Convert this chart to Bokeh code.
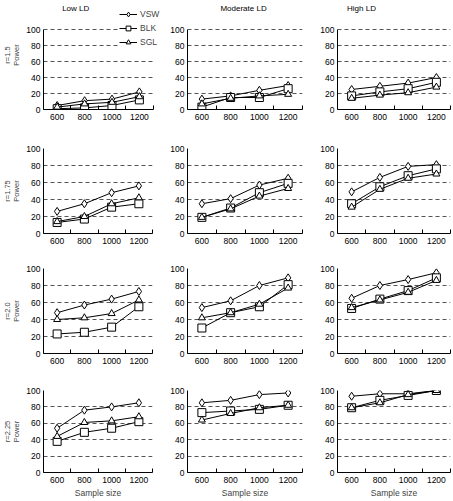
from bokeh.plotting import figure
from bokeh.layouts import column, row
from bokeh.models import FixedTicker, Legend, LegendItem, Label, BoxAnnotation
from bokeh.embed import file_html
from bokeh.resources import INLINE

sample_sizes = [600, 800, 1000, 1200]
ld_levels = ["Low LD", "Moderate LD", "High LD"]
r_labels = ["r=1.5", "r=1.75", "r=2.0", "r=2.25"]
methods = ["VSW", "BLK", "SGL"]
power_ticks = [0, 20, 40, 60, 80, 100]

# Power (%) per LD level: [Low, Moderate, High]
vsw_r150 = [[5, 11, 13, 22], [13, 17, 24, 30], [25, 29, 33, 40]]
blk_r150 = [[1, 2, 5, 12], [3, 15, 15, 26], [17, 22, 26, 34]]
sgl_r150 = [[3, 7, 9, 16], [7, 14, 17, 19], [14, 18, 21, 28]]

vsw_r175 = [[26, 35, 48, 56], [35, 41, 57, 65], [49, 66, 79, 81]]
blk_r175 = [[13, 17, 31, 35], [19, 30, 48, 59], [35, 55, 68, 76]]
sgl_r175 = [[14, 20, 35, 42], [19, 29, 44, 53], [31, 52, 65, 70]]

vsw_r200 = [[48, 57, 64, 73], [54, 62, 80, 89], [65, 80, 87, 95]]
blk_r200 = [[23, 25, 31, 55], [30, 48, 55, 81], [53, 64, 74, 89]]
sgl_r200 = [[40, 42, 47, 63], [42, 48, 58, 77], [54, 63, 72, 86]]

vsw_r225 = [[54, 76, 80, 85], [85, 88, 95, 97], [93, 96, 96, 100]]
blk_r225 = [[38, 49, 54, 62], [73, 75, 77, 82], [79, 88, 94, 100]]
sgl_r225 = [[44, 61, 63, 68], [64, 72, 79, 82], [79, 85, 95, 100]]

rows_data = [
    (vsw_r150, blk_r150, sgl_r150),
    (vsw_r175, blk_r175, sgl_r175),
    (vsw_r200, blk_r200, sgl_r200),
    (vsw_r225, blk_r225, sgl_r225),
]

FONT = "Liberation Sans"
FS = "8.5px"

X0, X1 = 500, 1300
col_borders = [(38, 15), (18, 10), (25, 2)]
col_widths = [167, 145, 140]
row_borders = [(0, 19), (20, 15), (20, 15), (22, 27)]
row_heights = [128, 120, 120, 132]
# first row: frame reaches the top of the page, 0-100 occupies the lower 80 px
Y1_TOP = 100 * (128 - 19) / 80.0
X1_WIDE = X0 + (X1 - X0) * (167 - 38) / 114.0
title_x = [735, 890, 670]
title_y = 126

markers = ["diamond", "square", "triangle"]
msizes = [8, 8, 7]

rows = []
for ri in range(4):
    figs = []
    for ci in range(3):
        top, bottom = row_borders[ri]
        left, right = col_borders[ci]
        xr = (X0, X1)
        yr = (0, 100)
        if ri == 0:
            yr = (0, Y1_TOP)
            if ci == 0:
                xr = (X0, X1_WIDE)
                right = 0
        p = figure(width=col_widths[ci], height=row_heights[ri],
                   x_range=xr, y_range=yr,
                   toolbar_location=None, output_backend="svg",
                   min_border_left=left, min_border_right=right,
                   min_border_top=top, min_border_bottom=bottom,
                   outline_line_color=None, background_fill_color="white",
                   border_fill_color="white")
        p.xaxis.ticker = FixedTicker(ticks=sample_sizes, minor_ticks=[500, 700, 900, 1100, 1300])
        p.xaxis.bounds = (X0, X1)
        p.xaxis.major_tick_in = 0
        p.xaxis.major_tick_out = 0
        p.xaxis.minor_tick_in = 4
        p.xaxis.minor_tick_out = 0
        p.yaxis.ticker = FixedTicker(ticks=power_ticks)
        p.yaxis.bounds = (0, 100)
        p.yaxis.major_tick_in = 0
        p.yaxis.major_tick_out = 0
        p.yaxis.minor_tick_in = 0
        p.yaxis.minor_tick_out = 0
        for ax in (p.xaxis[0], p.yaxis[0]):
            ax.major_label_text_font = FONT
            ax.major_label_text_font_size = FS
            ax.major_label_text_color = "black"
            ax.axis_line_color = "black"
            ax.axis_label_text_font = FONT
            ax.axis_label_text_font_size = FS
            ax.axis_label_text_font_style = "normal"
        p.xaxis.major_label_standoff = 4
        p.yaxis.major_label_standoff = 3
        if ri == 3:
            p.xaxis.axis_label = "Sample size"
            p.xaxis.axis_label_standoff = 2
        if ci == 0:
            p.yaxis.axis_label = r_labels[ri] + "\nPower"
            p.yaxis.axis_label_text_font_size = "7.5px"
            p.yaxis.axis_label_text_line_height = 1.0
            p.yaxis.axis_label_standoff = 2
        p.xgrid.visible = False
        p.ygrid.grid_line_color = "#555555"
        p.ygrid.grid_line_dash = "4 3"
        p.ygrid.grid_line_width = 1

        if ri == 0:
            if ci == 0:
                p.add_layout(BoxAnnotation(left=X1, fill_color="white", fill_alpha=1.0,
                                           line_alpha=0, level="underlay"))
            p.add_layout(Label(x=title_x[ci], y=title_y, text=ld_levels[ci],
                               text_align="center", text_baseline="middle",
                               text_font=FONT, text_font_size="8px",
                               text_color="black"))

        items = []
        for si, series in enumerate(rows_data[ri]):
            ys = series[ci]
            ln = p.line(sample_sizes, ys, line_color="black", line_width=1)
            sc = p.scatter(sample_sizes, ys, marker=markers[si], size=msizes[si],
                           fill_color="white", line_color="black", line_width=1)
            items.append(LegendItem(label=methods[si], renderers=[ln, sc]))
        if ri == 0 and ci == 0:
            leg = Legend(items=items, location=(76, 61), orientation="vertical",
                         label_text_font=FONT, label_text_font_size="8.5px",
                         glyph_width=18, glyph_height=12, label_height=12,
                         spacing=2, padding=0, margin=0, label_standoff=3,
                         border_line_color=None, background_fill_color="white",
                         background_fill_alpha=1.0)
            p.add_layout(leg, "center")
        figs.append(p)
    rows.append(row(*figs, spacing=0))

layout = column(*rows, spacing=0)
open("out.html", "w").write(file_html(layout, INLINE))
